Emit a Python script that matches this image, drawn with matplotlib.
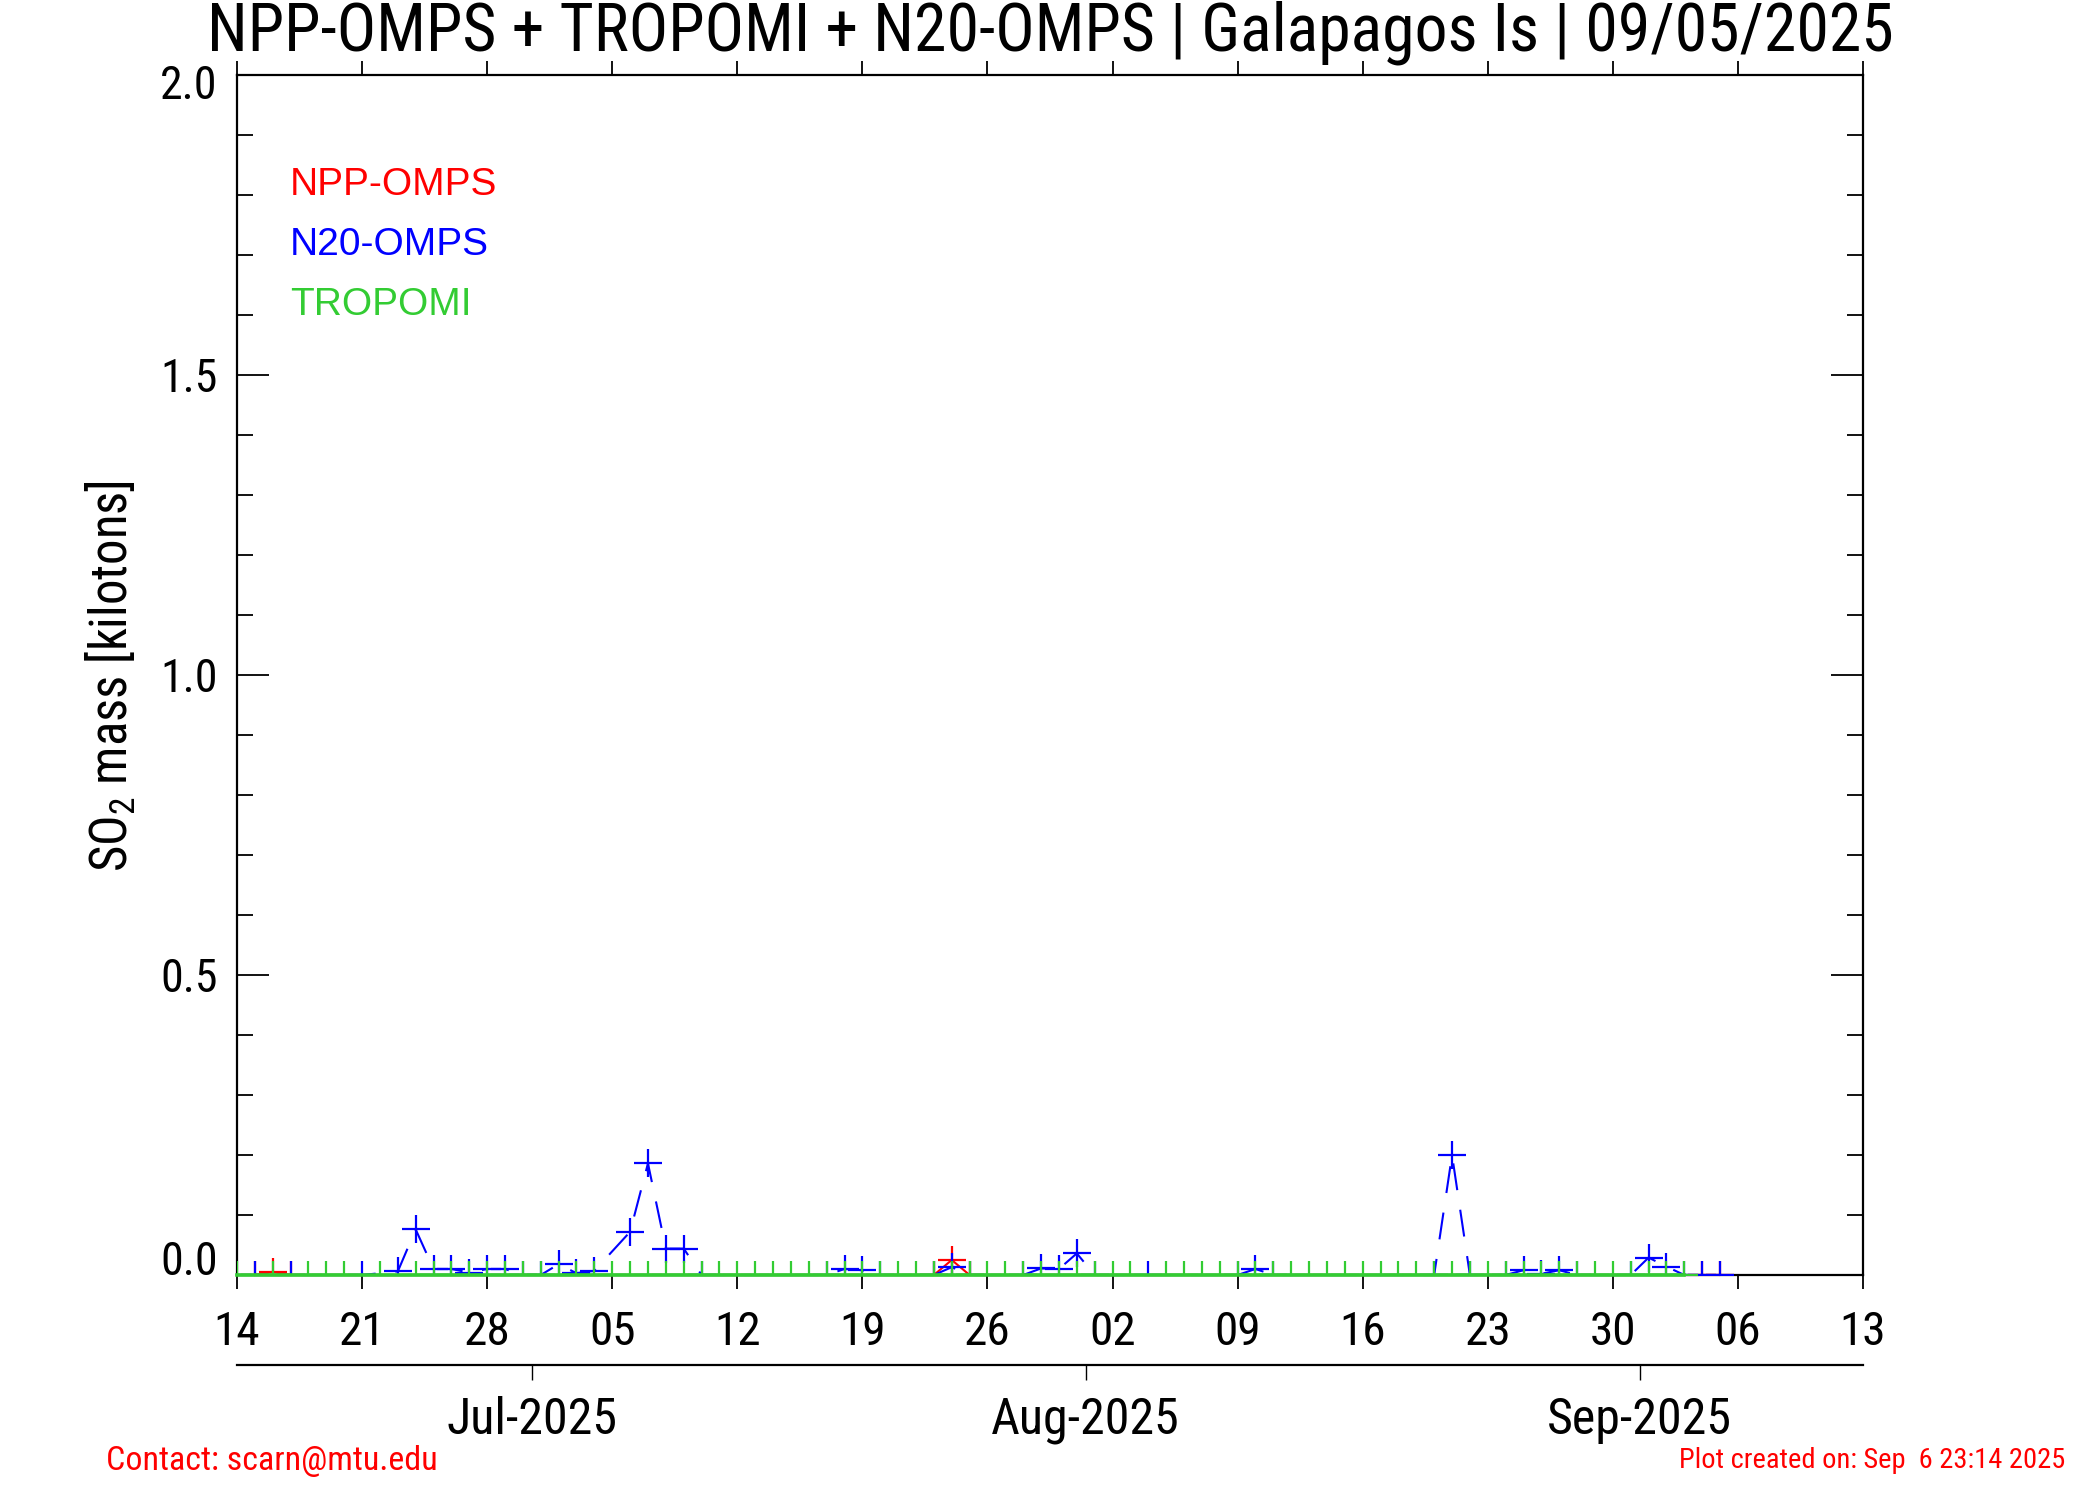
import numpy as np
import matplotlib
matplotlib.use("Agg")
import matplotlib.pyplot as plt
import matplotlib.dates as mdates
from matplotlib.transforms import ScaledTranslation

# ---------------- data ----------------
npp_dates = ["2025-06-15", "2025-06-16", "2025-06-17", "2025-07-23", "2025-07-24",
             "2025-07-25", "2025-09-04", "2025-09-05"]
npp_vals = [0.0, 0.005, 0.0, 0.0, 0.025, 0.0, 0.0, 0.0]

n20_dates = ["2025-06-15", "2025-06-17", "2025-06-21", "2025-06-23", "2025-06-24",
             "2025-06-25", "2025-06-26", "2025-06-27", "2025-06-28", "2025-06-29",
             "2025-06-30", "2025-07-01", "2025-07-02", "2025-07-03", "2025-07-04",
             "2025-07-06", "2025-07-07", "2025-07-08", "2025-07-09", "2025-07-10",
             "2025-07-17", "2025-07-18", "2025-07-19", "2025-07-20", "2025-07-23",
             "2025-07-24", "2025-07-25", "2025-07-28", "2025-07-29", "2025-07-30",
             "2025-07-31", "2025-08-01", "2025-08-04", "2025-08-09", "2025-08-10",
             "2025-08-11", "2025-08-20", "2025-08-21", "2025-08-22", "2025-08-24",
             "2025-08-25", "2025-08-26", "2025-08-27", "2025-08-28", "2025-08-31",
             "2025-09-01", "2025-09-02", "2025-09-03", "2025-09-04", "2025-09-05"]
n20_vals = [0.0, 0.0, 0.0, 0.006, 0.076,
            0.010, 0.010, 0.004, 0.010, 0.010,
            0.0, 0.0, 0.018, 0.003, 0.007,
            0.072, 0.186, 0.044, 0.044, 0.0,
            0.0, 0.010, 0.008, 0.0, 0.0,
            0.013, 0.0, 0.0, 0.011, 0.010,
            0.036, 0.0, 0.0, 0.0, 0.010,
            0.0, 0.0, 0.200, 0.0, 0.0,
            0.008, 0.002, 0.008, 0.0, 0.0,
            0.029, 0.014, 0.0, 0.0, 0.0]

tropomi_dates = ["2025-06-14", "2025-06-16", "2025-06-18", "2025-06-19", "2025-06-20",
                 "2025-06-22", "2025-06-24", "2025-06-25", "2025-06-26", "2025-06-27",
                 "2025-06-28", "2025-06-29", "2025-06-30", "2025-07-01", "2025-07-02",
                 "2025-07-03", "2025-07-04", "2025-07-05", "2025-07-06", "2025-07-07",
                 "2025-07-08", "2025-07-09", "2025-07-10", "2025-07-11", "2025-07-12",
                 "2025-07-13", "2025-07-14", "2025-07-15", "2025-07-16", "2025-07-17",
                 "2025-07-18", "2025-07-19", "2025-07-20", "2025-07-21", "2025-07-22",
                 "2025-07-23", "2025-07-24", "2025-07-25", "2025-07-26", "2025-07-27",
                 "2025-07-28", "2025-07-29", "2025-07-30", "2025-07-31", "2025-08-01",
                 "2025-08-02", "2025-08-03", "2025-08-05", "2025-08-06", "2025-08-07",
                 "2025-08-08", "2025-08-09", "2025-08-10", "2025-08-11", "2025-08-12",
                 "2025-08-13", "2025-08-14", "2025-08-15", "2025-08-16", "2025-08-17",
                 "2025-08-18", "2025-08-19", "2025-08-20", "2025-08-21", "2025-08-22",
                 "2025-08-23", "2025-08-24", "2025-08-25", "2025-08-26", "2025-08-27",
                 "2025-08-28", "2025-08-29", "2025-08-30", "2025-08-31", "2025-09-01",
                 "2025-09-02", "2025-09-03"]
tropomi_vals = [0.0] * len(tropomi_dates)

day_ticks = ["2025-06-14", "2025-06-21", "2025-06-28", "2025-07-05", "2025-07-12",
             "2025-07-19", "2025-07-26", "2025-08-02", "2025-08-09", "2025-08-16",
             "2025-08-23", "2025-08-30", "2025-09-06", "2025-09-13"]
month_ticks = ["2025-06-30T12:00", "2025-07-31T12:00", "2025-08-31T12:00"]
month_labels = ["Jul-2025", "Aug-2025", "Sep-2025"]
y_ticks = [0.0, 0.5, 1.0, 1.5, 2.0]
y_ticklabels = ["0.0", "0.5", "1.0", "1.5", "2.0"]

title = "NPP-OMPS + TROPOMI + N20-OMPS | Galapagos Is | 09/05/2025"
series_names = ["NPP-OMPS", "N20-OMPS", "TROPOMI"]

# ---------------- style ----------------
RED = (1.0, 0.0, 0.0)
BLUE = (0.0, 0.0, 1.0)
GREEN = (0.2, 0.8, 0.2)
NARROW = ["Roboto Condensed", "Liberation Sans", "DejaVu Sans"]
REG = ["Liberation Sans", "DejaVu Sans"]

plt.rcParams["font.family"] = NARROW
plt.rcParams["mathtext.fontset"] = "custom"
plt.rcParams["mathtext.rm"] = "Roboto Condensed"
plt.rcParams["mathtext.default"] = "rm"

W, H = 2100, 1500
fig = plt.figure(figsize=(21, 15), dpi=100)
L, R, T, B = 237, 1863, 75, 1275
ax = fig.add_axes([L / W, 1 - B / H, (R - L) / W, (B - T) / H])

def d(lst):
    return np.array(lst, dtype="datetime64[m]").astype("datetime64[ms]").astype(object)

def plot_series(dates, vals, color, dashed):
    x = d(dates)
    kw = dict(color=color, lw=1.5, clip_on=False, zorder=3)
    if dashed:
        ax.plot(x, vals, linestyle=(0, (13, 9.5)), **kw)
    else:
        ax.plot(x, vals, linestyle="-", **kw)
    ax.plot(x, vals, linestyle="none", marker="+", markersize=19.5,
            markeredgewidth=1.6, color=color, clip_on=True, zorder=4)

plot_series(npp_dates, npp_vals, RED, False)
plot_series(n20_dates, n20_vals, BLUE, True)
xt = d(tropomi_dates)
ax.plot(xt, tropomi_vals, color=GREEN, lw=2.6, clip_on=False, zorder=5)
ax.plot(xt, tropomi_vals, linestyle="none", marker="+", markersize=19.5,
        markeredgewidth=1.6, color=GREEN, clip_on=True, zorder=5)

ax.set_xlim(d(["2025-06-14"])[0], d(["2025-09-13"])[0])
ax.set_ylim(0, 2.0)

for s in ax.spines.values():
    s.set_linewidth(1.6)
    s.set_zorder(2)

ax.set_xticks(d(day_ticks))
ax.xaxis.set_major_formatter(mdates.DateFormatter("%d"))
ax.tick_params(axis="x", which="major", direction="out", length=10, width=1.3,
               top=True, labeltop=False, labelsize=34, pad=15)
ax.set_yticks(y_ticks)
ax.set_yticklabels(y_ticklabels)
ax.set_yticks(np.arange(0, 2.01, 0.1), minor=True)
ax.tick_params(axis="y", which="major", direction="in", length=23, width=1.3,
               left=True, right=True, labelsize=33, pad=14)
ax.tick_params(axis="y", which="minor", direction="in", length=11.5, width=1.3,
               left=True, right=True)
yt = ax.yaxis.get_major_ticks()
yt[0].label1.set_va("baseline")
yt[-1].label1.set_va("top")
yt[-1].label1.set_transform(yt[-1].label1.get_transform()
                            + ScaledTranslation(0, 0.11, fig.dpi_scale_trans))

# month axis
ax2 = fig.add_axes([L / W, 1 - 1365 / H, (R - L) / W, 1e-5])
ax2.set_xlim(ax.get_xlim())
ax2.patch.set_visible(False)
for k in ["top", "left", "right"]:
    ax2.spines[k].set_visible(False)
ax2.spines["bottom"].set_linewidth(1.6)
ax2.set_yticks([])
ax2.set_xticks(d(month_ticks))
ax2.set_xticklabels(month_labels)
ax2.tick_params(axis="x", direction="out", length=11, width=1.0, labelsize=36, pad=11)

# title, labels
fig.text(0.5, 1 - 33 / H, title, ha="center", va="center", fontsize=47.3)
fig.text(111 / W, 1 - 676 / H, "SO$_2$ mass [kilotons]", rotation=90,
         ha="center", va="center", fontsize=36.5)

for name, col, yy in zip(series_names, [RED, BLUE, GREEN], [185, 245, 305]):
    fig.text(290 / W, 1 - yy / H, name, color=col, ha="left", va="center",
             fontsize=28, family=REG)

fig.text(106 / W, 1 - 1461 / H, "Contact: scarn@mtu.edu", color=RED,
         ha="left", va="center", fontsize=24.5)
fig.text(2065 / W, 1 - 1461 / H, "Plot created on: Sep  6 23:14 2025", color=RED,
         ha="right", va="center", fontsize=20.5)

fig.savefig("out.png", dpi=100)
